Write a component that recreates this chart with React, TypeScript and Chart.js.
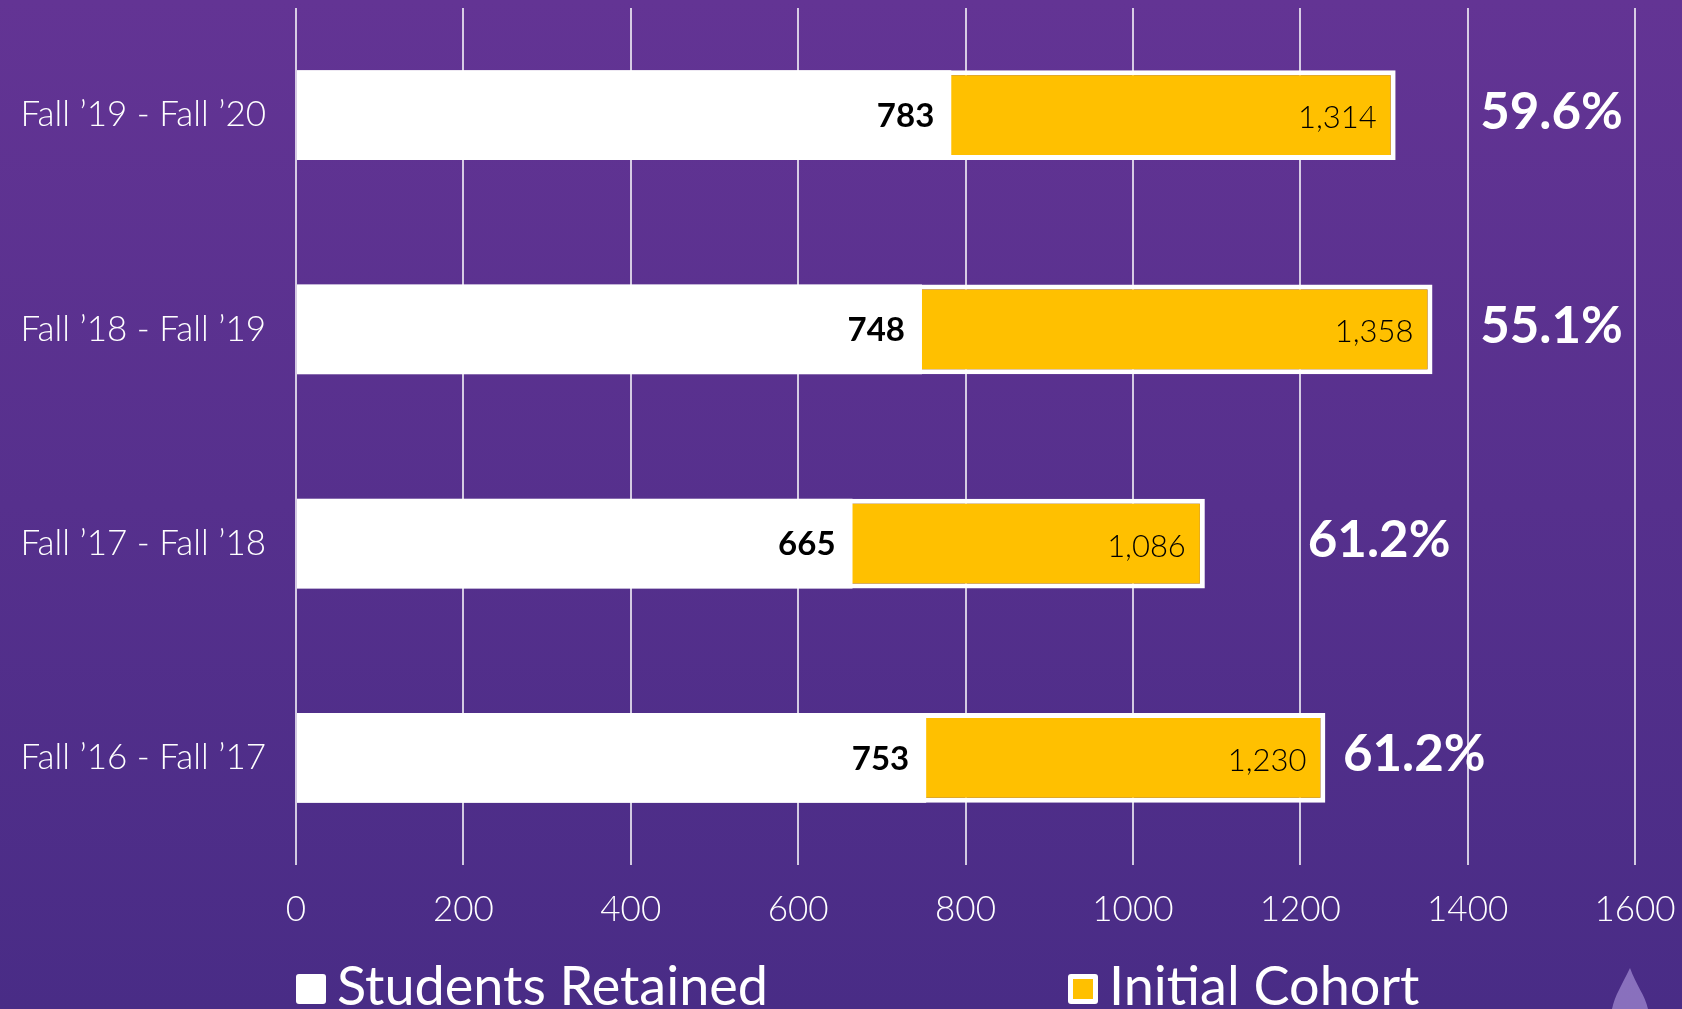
import React, { useEffect, useRef } from "react";
import { Chart, registerables } from "chart.js";

Chart.register(...registerables);

// ---- data ----
const categories = ["Fall ’19 - Fall ’20", "Fall ’18 - Fall ’19", "Fall ’17 - Fall ’18", "Fall ’16 - Fall ’17"];
const studentsRetained = [783, 748, 665, 753];
const initialCohort = [1314, 1358, 1086, 1230];
const retentionRates = ["59.6%", "55.1%", "61.2%", "61.2%"];
const xTickValues = [0, 200, 400, 600, 800, 1000, 1200, 1400, 1600];
const seriesNames = ["Students Retained", "Initial Cohort"];

// ---- layout (where the percentage labels start, in axis units) ----
const PCT_LABEL_AT = [1415, 1415, 1209, 1251];

const FONT = "Lato, 'Open Sans', sans-serif";
const YELLOW = "#FFC000";
const WHITE = "#FFFFFF";

const labelPlugin = {
  id: "customLabels",
  beforeDraw(chart: any) {
    const { ctx, width, height } = chart;
    ctx.save();
    const g = ctx.createLinearGradient(0, 0, 0, height);
    g.addColorStop(0, "#633494");
    g.addColorStop(1, "#492c86");
    ctx.fillStyle = g;
    ctx.fillRect(0, 0, width, height);
    ctx.restore();
  },
  afterDatasetsDraw(chart: any) {
    const { ctx } = chart;
    const xScale = chart.scales.x;
    const m0 = chart.getDatasetMeta(0);
    const m1 = chart.getDatasetMeta(1);
    ctx.save();
    ctx.textBaseline = "middle";
    for (let i = 0; i < categories.length; i++) {
      const b0 = m0.data[i];
      const b1 = m1.data[i];
      ctx.fillStyle = "#000";
      ctx.textAlign = "right";
      ctx.font = `bold 33px ${FONT}`;
      ctx.fillText(String(studentsRetained[i]), b0.x - 17, b0.y + 1);
      ctx.font = `300 31px ${FONT}`;
      ctx.fillText(initialCohort[i].toLocaleString("en-US"), b1.x - 19, b1.y + 3);
      ctx.fillStyle = WHITE;
      ctx.textAlign = "left";
      ctx.font = `bold 51px ${FONT}`;
      ctx.fillText(retentionRates[i], xScale.getPixelForValue(PCT_LABEL_AT[i]), b1.y - 3);
    }
    ctx.restore();
  },
  afterDraw(chart: any) {
    const { ctx, chartArea } = chart;
    ctx.save();
    // legend
    const boxY = 974;
    const box = 30;
    ctx.textBaseline = "alphabetic";
    ctx.textAlign = "left";
    ctx.font = `400 54px ${FONT}`;
    // Students Retained
    let x = chartArea.left;
    ctx.fillStyle = WHITE;
    ctx.beginPath();
    ctx.roundRect(x, boxY, box, box, 3);
    ctx.fill();
    ctx.fillText(seriesNames[0], x + 41, 1005);
    // Initial Cohort
    x = 1068;
    ctx.fillStyle = WHITE;
    ctx.beginPath();
    ctx.roundRect(x, boxY, box, box, 3);
    ctx.fill();
    ctx.fillStyle = YELLOW;
    ctx.fillRect(x + 5, boxY + 5, box - 10, box - 10);
    ctx.fillStyle = WHITE;
    ctx.fillText(seriesNames[1], x + 41, 1005);
    // small flame mark
    ctx.fillStyle = "rgba(190,170,235,0.55)";
    ctx.beginPath();
    ctx.moveTo(1630, 968);
    ctx.bezierCurveTo(1622, 985, 1615, 995, 1612, 1009);
    ctx.lineTo(1648, 1009);
    ctx.bezierCurveTo(1645, 995, 1636, 985, 1630, 968);
    ctx.fill();
    ctx.restore();
  },
};

export default function App() {
  const ref = useRef<HTMLCanvasElement | null>(null);
  useEffect(() => {
    if (!ref.current) return;
    const chart = new Chart(ref.current, {
      type: "bar",
      data: {
        labels: categories,
        datasets: [
          {
            label: seriesNames[0],
            data: studentsRetained,
            backgroundColor: WHITE,
            borderWidth: 0,
            grouped: false,
            barPercentage: 0.42,
            categoryPercentage: 1,
          } as any,
          {
            label: seriesNames[1],
            data: initialCohort,
            backgroundColor: YELLOW,
            borderColor: WHITE,
            borderWidth: 5,
            borderSkipped: false,
            grouped: false,
            barPercentage: 0.42,
            categoryPercentage: 1,
          } as any,
        ],
      },
      options: {
        indexAxis: "y",
        responsive: false,
        animation: false,
        devicePixelRatio: 1,
        layout: { padding: { top: 8, right: 47, left: 0, bottom: 0 } },
        plugins: { legend: { display: false }, tooltip: { enabled: false } },
        scales: {
          x: {
            min: 0,
            max: 1600,
            afterBuildTicks: (s: any) => {
              s.ticks = xTickValues.map((v) => ({ value: v }));
            },
            afterFit: (s: any) => {
              s.height = 144;
              s.paddingLeft = 0;
              s.paddingRight = 0;
            },
            grid: { color: "rgba(255,255,255,0.75)", lineWidth: 2, drawTicks: false },
            border: { display: false },
            ticks: {
              color: WHITE,
              font: { family: FONT, size: 35, weight: "300" },
              padding: 24,
              callback: (v: any) => String(v),
            },
          },
          y: {
            afterFit: (s: any) => {
              s.width = 296;
              s.paddingTop = 0;
              s.paddingBottom = 0;
            },
            grid: { display: false, drawTicks: false },
            border: { display: false },
            ticks: {
              color: WHITE,
              font: { family: FONT, size: 35, weight: "300" },
              padding: 30,
            },
          },
        },
      },
      plugins: [labelPlugin],
    });
    return () => chart.destroy();
  }, []);
  return (
    <div style={{ position: "fixed", left: 0, top: 0, width: 1682, height: 1009, overflow: "hidden", background: "#55318c" }}>
      <canvas ref={ref} width={1682} height={1009} style={{ display: "block" }} />
    </div>
  );
}
